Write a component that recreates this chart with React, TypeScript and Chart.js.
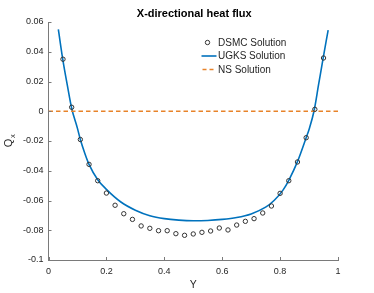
import React, { useEffect, useRef } from "react";
import { Chart, registerables } from "chart.js";
Chart.register(...registerables);

const TITLE = "X-directional heat flux";
const X_LABEL = "Y";
const Y_LABEL = "Q";
const Y_LABEL_SUB = "x";
const LEGEND_LABELS = ["DSMC Solution", "UGKS Solution", "NS Solution"];

const dsmcY = [0.05, 0.08, 0.11, 0.14, 0.17, 0.2, 0.23, 0.26, 0.29, 0.32, 0.35, 0.38, 0.41, 0.44, 0.47, 0.5, 0.53, 0.56, 0.59, 0.62, 0.65, 0.68, 0.71, 0.74, 0.77, 0.8, 0.83, 0.86, 0.89, 0.92, 0.95];
const dsmcQ = [0.035, 0.0027, -0.019, -0.0357, -0.0467, -0.055, -0.0632, -0.0689, -0.0727, -0.0771, -0.0787, -0.0803, -0.0803, -0.0823, -0.0834, -0.0825, -0.0814, -0.0805, -0.0785, -0.0798, -0.0765, -0.074, -0.0722, -0.0684, -0.0637, -0.0552, -0.0467, -0.0341, -0.0178, 0.0013, 0.0358];

const ugksY = [0.034, 0.05, 0.065, 0.08, 0.1, 0.11, 0.125, 0.14, 0.17, 0.2, 0.25, 0.3, 0.35, 0.4, 0.45, 0.5, 0.55, 0.6, 0.65, 0.7, 0.75, 0.78, 0.81, 0.83, 0.86, 0.89, 0.9, 0.917, 0.933, 0.949, 0.966];
const ugksQ = [0.055, 0.034, 0.0175, 0.002, -0.0115, -0.019, -0.028, -0.0357, -0.046, -0.0525, -0.061, -0.0665, -0.0702, -0.0722, -0.0732, -0.0736, -0.0734, -0.0727, -0.0714, -0.069, -0.0645, -0.0598, -0.053, -0.0464, -0.0339, -0.0178, -0.0122, 0.0, 0.018, 0.036, 0.0546];

const nsY = [0, 1];
const nsQ = [0, 0];

const xTicks = [0, 0.2, 0.4, 0.6, 0.8, 1];
const xTickLabels = ["0", "0.2", "0.4", "0.6", "0.8", "1"];
const yTicks = [-0.1, -0.08, -0.06, -0.04, -0.02, 0, 0.02, 0.04, 0.06];
const yTickLabels = ["-0.1", "-0.08", "-0.06", "-0.04", "-0.02", "0", "0.02", "0.04", "0.06"];

const FONT = "'Liberation Sans', Arial, Helvetica, sans-serif";
const TEXT = "#262626";
const AXIS = "#7a7a7a";
const BLUE = "#0072BD";
const ORANGE = "#E8832A";
const MARK = "#333333";

const decorPlugin = {
  id: "decor",
  afterDraw(chart: any) {
    const ctx = chart.ctx;
    const ca = chart.chartArea;
    const xs = chart.scales.x;
    const ys = chart.scales.y;
    ctx.save();
    // inward ticks
    ctx.strokeStyle = AXIS;
    ctx.lineWidth = 1;
    ctx.beginPath();
    xTicks.forEach((v) => {
      const px = Math.round(xs.getPixelForValue(v)) + 0.5;
      ctx.moveTo(px, ca.bottom);
      ctx.lineTo(px, ca.bottom - 3);
    });
    yTicks.forEach((v) => {
      const py = Math.round(ys.getPixelForValue(v)) + 0.5;
      ctx.moveTo(ca.left, py);
      ctx.lineTo(ca.left + 3, py);
    });
    ctx.stroke();

    // title
    const cx = (ca.left + ca.right) / 2;
    ctx.fillStyle = "#000";
    ctx.font = `bold 11px ${FONT}`;
    ctx.textAlign = "center";
    ctx.textBaseline = "middle";
    ctx.fillText(TITLE, cx + 1, 13.5);

    // x label
    ctx.fillStyle = TEXT;
    ctx.font = `10.5px ${FONT}`;
    ctx.fillText(X_LABEL, cx, 285);

    // y label with subscript
    ctx.save();
    ctx.translate(10, (ca.top + ca.bottom) / 2);
    ctx.rotate(-Math.PI / 2);
    ctx.font = `11px ${FONT}`;
    ctx.textAlign = "left";
    ctx.textBaseline = "alphabetic";
    const qw = ctx.measureText(Y_LABEL).width;
    ctx.font = `7.5px ${FONT}`;
    const sw = ctx.measureText(Y_LABEL_SUB).width;
    const start = -(qw + sw) / 2;
    ctx.font = `11px ${FONT}`;
    ctx.fillText(Y_LABEL, start, 2);
    ctx.font = `7.5px ${FONT}`;
    ctx.fillText(Y_LABEL_SUB, start + qw + 0.5, 4.5);
    ctx.restore();

    // legend
    const rows = [42.5, 56, 69.5];
    const x0 = 201.5;
    const x1 = 216.5;
    ctx.font = `10px ${FONT}`;
    ctx.textAlign = "left";
    ctx.textBaseline = "middle";
    // marker
    ctx.strokeStyle = MARK;
    ctx.lineWidth = 1;
    ctx.beginPath();
    ctx.arc((x0 + x1) / 2 - 1.5, rows[0], 2.2, 0, Math.PI * 2);
    ctx.stroke();
    // blue line
    ctx.strokeStyle = BLUE;
    ctx.lineWidth = 1.6;
    ctx.beginPath();
    ctx.moveTo(x0, rows[1]);
    ctx.lineTo(x1, rows[1]);
    ctx.stroke();
    // orange dashed
    ctx.strokeStyle = ORANGE;
    ctx.lineWidth = 1.3;
    ctx.setLineDash([4, 3]);
    ctx.beginPath();
    ctx.moveTo(x0 + 1, rows[2]);
    ctx.lineTo(x1, rows[2]);
    ctx.stroke();
    ctx.setLineDash([]);
    ctx.fillStyle = TEXT;
    LEGEND_LABELS.forEach((t, i) => ctx.fillText(t, 218, rows[i] + 0.5));
    ctx.restore();
  },
};

export default function App() {
  const ref = useRef<HTMLCanvasElement | null>(null);
  useEffect(() => {
    if (!ref.current) return;
    const chart = new Chart(ref.current, {
      type: "scatter",
      data: {
        datasets: [
          {
            label: LEGEND_LABELS[1],
            data: ugksY.map((x, i) => ({ x, y: ugksQ[i] })),
            showLine: true,
            borderColor: BLUE,
            borderWidth: 1.6,
            pointRadius: 0,
            cubicInterpolationMode: "monotone",
            order: 2,
          } as any,
          {
            label: LEGEND_LABELS[2],
            data: nsY.map((x, i) => ({ x, y: nsQ[i] })),
            showLine: true,
            borderColor: ORANGE,
            borderWidth: 1.3,
            borderDash: [4.5, 3],
            pointRadius: 0,
            order: 1,
          } as any,
          {
            label: LEGEND_LABELS[0],
            data: dsmcY.map((x, i) => ({ x, y: dsmcQ[i] })),
            showLine: false,
            pointStyle: "circle",
            pointRadius: 2.2,
            pointBorderWidth: 1,
            pointBorderColor: MARK,
            pointBackgroundColor: "rgba(0,0,0,0)",
            order: 0,
          } as any,
        ],
      },
      options: {
        animation: false,
        responsive: false,
        maintainAspectRatio: false,
        devicePixelRatio: 1,
        layout: { padding: { left: 0, right: 36, top: 22, bottom: 0 } },
        plugins: {
          legend: { display: false },
          title: { display: false },
          tooltip: { enabled: false },
        },
        scales: {
          x: {
            type: "linear",
            min: 0,
            max: 1,
            afterBuildTicks: (s: any) => {
              s.ticks = xTicks.map((v) => ({ value: v }));
            },
            afterFit: (s: any) => {
              s.height = 33;
            },
            grid: { display: false, drawTicks: false },
            border: { display: true, color: AXIS, width: 1 },
            ticks: {
              padding: 6,
              color: TEXT,
              font: { family: FONT, size: 9 },
              maxRotation: 0,
              callback: (v: any) => {
                const i = xTicks.findIndex((t) => Math.abs(t - v) < 1e-9);
                return i >= 0 ? xTickLabels[i] : "";
              },
            },
          },
          y: {
            type: "linear",
            min: -0.1,
            max: 0.06,
            afterBuildTicks: (s: any) => {
              s.ticks = yTicks.map((v) => ({ value: v }));
            },
            afterFit: (s: any) => {
              s.width = 48.5;
            },
            grid: { display: false, drawTicks: false },
            border: { display: true, color: AXIS, width: 1 },
            ticks: {
              padding: 5,
              color: TEXT,
              font: { family: FONT, size: 9 },
              callback: (v: any) => {
                const i = yTicks.findIndex((t) => Math.abs(t - v) < 1e-9);
                return i >= 0 ? yTickLabels[i] : "";
              },
            },
          },
        },
      } as any,
      plugins: [decorPlugin],
    });
    return () => chart.destroy();
  }, []);
  return (
    <div style={{ position: "fixed", left: 0, top: 0, width: 374, height: 293, background: "#fff" }}>
      <canvas ref={ref} width={374} height={293} style={{ width: 374, height: 293, display: "block" }} />
    </div>
  );
}
